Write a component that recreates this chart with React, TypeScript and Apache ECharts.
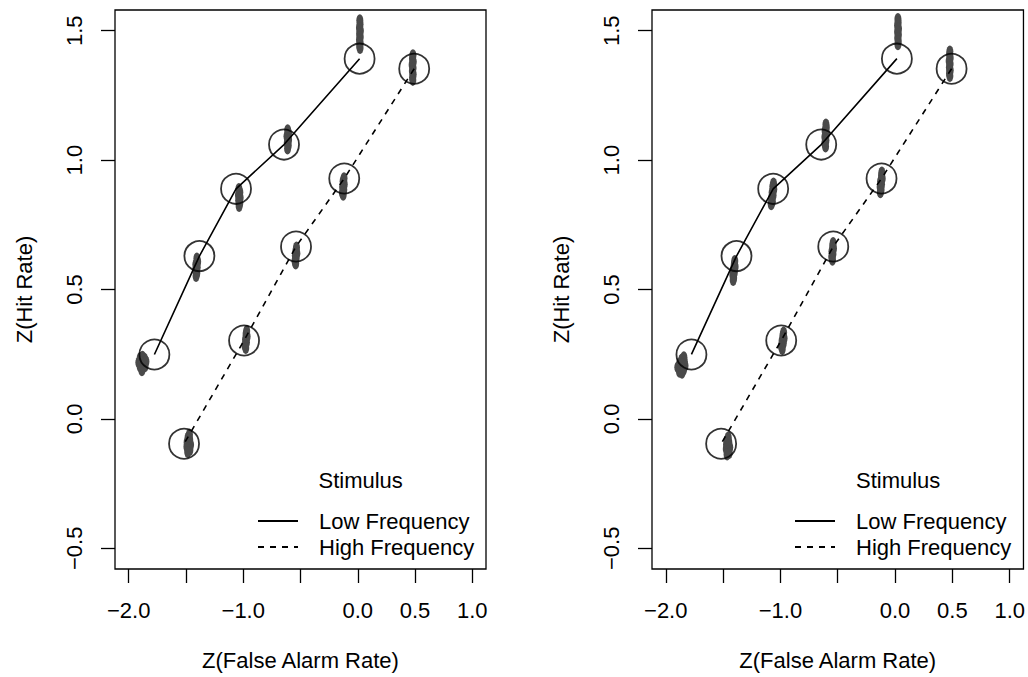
import React, { useEffect, useRef } from "react";
import * as echarts from "echarts";

// Observed (circles), shared by both panels
const lowX = [0.016, -0.644, -1.063, -1.383, -1.776];
const lowY = [1.392, 1.06, 0.889, 0.629, 0.249];
const highX = [0.493, -0.118, -0.539, -0.993, -1.517];
const highY = [1.353, 0.929, 0.666, 0.303, -0.096];

// Posterior sample clouds, left panel
const samplesLeft: number[][] = [
  [0.018, 1.54], [0.02, 1.525], [0.015, 1.51], [0.023, 1.5], [0.016, 1.488], [0.022, 1.476], [0.015, 1.465], [0.021, 1.453], [0.017, 1.442], [0.02, 1.433],
  [-0.612, 1.115], [-0.605, 1.103], [-0.618, 1.092], [-0.604, 1.08], [-0.615, 1.068], [-0.607, 1.057], [-0.613, 1.045],
  [-1.038, 0.888], [-1.03, 0.876], [-1.042, 0.865], [-1.027, 0.855], [-1.04, 0.845], [-1.03, 0.834], [-1.036, 0.823],
  [-1.405, 0.62], [-1.398, 0.607], [-1.414, 0.597], [-1.402, 0.586], [-1.416, 0.574], [-1.406, 0.563], [-1.412, 0.552],
  [-1.9, 0.235], [-1.88, 0.24], [-1.862, 0.232], [-1.912, 0.218], [-1.89, 0.22], [-1.868, 0.215], [-1.85, 0.222], [-1.9, 0.202], [-1.878, 0.198], [-1.858, 0.203], [-1.885, 0.188],
  [0.482, 1.405], [0.478, 1.392], [0.485, 1.38], [0.475, 1.368], [0.483, 1.356], [0.477, 1.344], [0.484, 1.332], [0.479, 1.32], [0.481, 1.31],
  [-0.12, 0.93], [-0.128, 0.918], [-0.118, 0.907], [-0.132, 0.896], [-0.122, 0.885], [-0.134, 0.874], [-0.127, 0.866],
  [-0.535, 0.662], [-0.54, 0.65], [-0.532, 0.64], [-0.545, 0.63], [-0.538, 0.62], [-0.548, 0.61], [-0.542, 0.6],
  [-0.97, 0.34], [-0.975, 0.328], [-0.966, 0.318], [-0.98, 0.307], [-0.972, 0.296], [-0.985, 0.285], [-0.978, 0.274],
  [-1.47, -0.06], [-1.482, -0.072], [-1.468, -0.08], [-1.49, -0.09], [-1.475, -0.094], [-1.46, -0.1], [-1.492, -0.108], [-1.478, -0.112], [-1.466, -0.12], [-1.485, -0.128],
];

// Posterior sample clouds, right panel
const samplesRight: number[][] = [
  [0.025, 1.545], [0.027, 1.532], [0.022, 1.52], [0.03, 1.508], [0.022, 1.496], [0.029, 1.484], [0.023, 1.472], [0.028, 1.46], [0.025, 1.448],
  [-0.603, 1.138], [-0.6, 1.125], [-0.61, 1.113], [-0.598, 1.101], [-0.612, 1.089], [-0.603, 1.077], [-0.612, 1.065], [-0.606, 1.053],
  [-1.06, 0.91], [-1.066, 0.898], [-1.058, 0.887], [-1.072, 0.875], [-1.064, 0.864], [-1.078, 0.852], [-1.07, 0.84], [-1.08, 0.829],
  [-1.398, 0.61], [-1.402, 0.598], [-1.395, 0.588], [-1.41, 0.577], [-1.402, 0.566], [-1.415, 0.556], [-1.408, 0.545], [-1.412, 0.537],
  [-1.842, 0.238], [-1.86, 0.23], [-1.838, 0.222], [-1.878, 0.215], [-1.855, 0.212], [-1.832, 0.205], [-1.895, 0.2], [-1.868, 0.197], [-1.845, 0.19], [-1.88, 0.182], [-1.858, 0.178],
  [0.478, 1.42], [0.476, 1.407], [0.481, 1.395], [0.472, 1.383], [0.48, 1.371], [0.474, 1.359], [0.481, 1.347], [0.475, 1.336], [0.478, 1.325],
  [-0.115, 0.952], [-0.118, 0.94], [-0.112, 0.929], [-0.126, 0.918], [-0.118, 0.907], [-0.13, 0.896], [-0.122, 0.885], [-0.128, 0.876],
  [-0.54, 0.68], [-0.544, 0.668], [-0.537, 0.658], [-0.55, 0.648], [-0.542, 0.637], [-0.552, 0.626], [-0.546, 0.615],
  [-0.972, 0.334], [-0.978, 0.322], [-0.968, 0.312], [-0.985, 0.302], [-0.975, 0.292], [-0.992, 0.282], [-0.984, 0.27],
  [-1.455, -0.072], [-1.465, -0.082], [-1.45, -0.09], [-1.47, -0.098], [-1.455, -0.104], [-1.442, -0.11], [-1.472, -0.116], [-1.458, -0.124], [-1.447, -0.132], [-1.465, -0.138],
];

const xTicks = [-2, -1.5, -1, -0.5, 0, 0.5, 1];
const xLabels = [-2, -1, 0, 0.5, 1];
const yTicks = [-0.5, 0, 0.5, 1, 1.5];
const legendNames = ["Low Frequency", "High Frequency"];
const legendTitle = "Stimulus";
const xTitle = "Z(False Alarm Rate)";
const yTitle = "Z(Hit Rate)";

const FONT = "Liberation Sans, Arial, Helvetica, sans-serif";
const ELLIPSE = "path://M0,5a5,5 0 1,0 10,0a5,5 0 1,0 -10,0z";

const fmt = (v: number) => {
  const s = Math.abs(v).toFixed(1);
  return v < 0 ? "\u2212" + s : s;
};

const textBase = { color: "#000", fontSize: 22, fontFamily: FONT };

function pairs(xs: number[], ys: number[]) {
  return xs.map((x, i) => [x, ys[i]]);
}

export default function App() {
  const ref = useRef<HTMLDivElement>(null);
  useEffect(() => {
    if (!ref.current) return;
    const chart = echarts.init(ref.current, null, { renderer: "svg" });
    const panels = [
      { left: 115, width: 371, samples: samplesLeft, legendLeft: 252, titleX: 318.5 },
      { left: 652, width: 372, samples: samplesRight, legendLeft: 789, titleX: 856 },
    ];
    const grid = panels.map((p) => ({
      left: p.left,
      top: 10,
      width: p.width,
      height: 559,
      show: true,
      borderColor: "#000",
      borderWidth: 1.3,
      backgroundColor: "transparent",
    }));
    const xAxis = panels.map((_, i) => ({
      type: "value",
      gridIndex: i,
      min: -2.12,
      max: 1.12,
      axisLine: { show: false, onZero: false },
      splitLine: { show: false },
      axisTick: {
        show: true,
        inside: false,
        length: 14,
        customValues: xTicks,
        lineStyle: { color: "#000", width: 1.3 },
      },
      axisLabel: {
        ...textBase,
        customValues: xLabels,
        formatter: fmt,
        margin: 30,
      },
      name: xTitle,
      nameLocation: "middle",
      nameGap: 80,
      nameTextStyle: { ...textBase },
    }));
    const yAxis = panels.map((_, i) => ({
      type: "value",
      gridIndex: i,
      min: -0.58,
      max: 1.58,
      axisLine: { show: false, onZero: false },
      splitLine: { show: false },
      axisTick: {
        show: true,
        inside: false,
        length: 14,
        customValues: yTicks,
        lineStyle: { color: "#000", width: 1.3 },
      },
      axisLabel: {
        ...textBase,
        customValues: yTicks,
        formatter: fmt,
        rotate: 90,
        margin: 30,
      },
      name: yTitle,
      nameLocation: "middle",
      nameRotate: 90,
      nameGap: 80,
      nameTextStyle: { ...textBase },
    }));
    const series: any[] = [];
    panels.forEach((p, i) => {
      series.push({
        type: "scatter",
        name: "samples" + i,
        xAxisIndex: i,
        yAxisIndex: i,
        data: p.samples,
        symbol: ELLIPSE,
        symbolSize: [7, 12],
        itemStyle: { color: "#4a4a4a", opacity: 1 },
        silent: true,
        z: 2,
      });
      series.push({
        type: "line",
        name: legendNames[0],
        xAxisIndex: i,
        yAxisIndex: i,
        data: pairs(lowX, lowY),
        symbol: "none",
        lineStyle: { color: "#000", width: 1.6, type: "solid" },
        itemStyle: { color: "#000" },
        z: 3,
      });
      series.push({
        type: "line",
        name: legendNames[1],
        xAxisIndex: i,
        yAxisIndex: i,
        data: pairs(highX, highY),
        symbol: "none",
        lineStyle: { color: "#000", width: 1.6, type: [6, 6] },
        itemStyle: { color: "#000" },
        z: 3,
      });
      series.push({
        type: "scatter",
        name: "observed" + i,
        xAxisIndex: i,
        yAxisIndex: i,
        data: [...pairs(lowX, lowY), ...pairs(highX, highY)],
        symbol: "circle",
        symbolSize: 30,
        itemStyle: { color: "transparent", borderColor: "#000", borderWidth: 1.8 },
        silent: true,
        z: 4,
      });
    });
    const legend = panels.map((p) => ({
      left: p.legendLeft,
      top: 505,
      orient: "vertical",
      itemWidth: 40,
      itemHeight: 14,
      itemGap: 4,
      selectedMode: false,
      data: legendNames,
      itemStyle: { opacity: 0 },
      textStyle: { ...textBase, padding: [0, 0, 0, 16] },
    }));
    const graphic = panels.map((p) => ({
      type: "text",
      left: p.titleX,
      top: 469,
      style: { text: legendTitle, fill: "#000", fontSize: 22, fontFamily: FONT },
    }));
    chart.setOption({
      animation: false,
      backgroundColor: "#fff",
      grid,
      xAxis,
      yAxis,
      series,
      legend,
      graphic,
    });
    return () => chart.dispose();
  }, []);
  return (
    <div
      ref={ref}
      style={{ position: "fixed", left: 0, top: 0, width: 1028, height: 677, background: "#fff" }}
    />
  );
}
